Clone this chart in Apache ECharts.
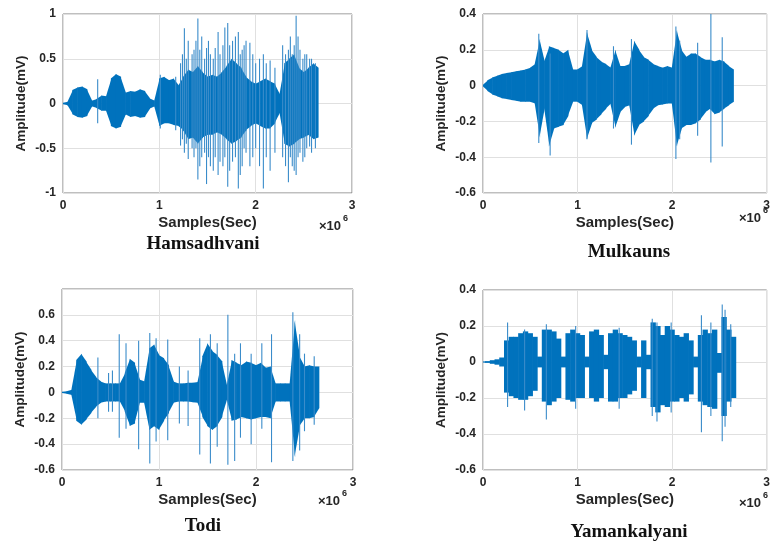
<!DOCTYPE html>
<html>
<head>
<meta charset="utf-8">
<title>Raga waveforms</title>
<script src="https://cdn.jsdelivr.net/npm/echarts@6/dist/echarts.min.js"></script>
<style>
  html, body { margin: 0; padding: 0; background: #fff; }
  #chart { width: 773px; height: 541px; }
</style>
</head>
<body>
<div id="chart"></div>
<script>
var samplePos = [0, 0.05, 0.1, 0.15, 0.2, 0.25, 0.3, 0.35, 0.4, 0.45,
    0.5, 0.55, 0.6, 0.65, 0.7, 0.75, 0.8, 0.85, 0.9, 0.95,
    1, 1.05, 1.1, 1.15, 1.2, 1.25, 1.3, 1.35, 1.4, 1.45,
    1.5, 1.55, 1.6, 1.65, 1.7, 1.75, 1.8, 1.85, 1.9, 1.95,
    2, 2.05, 2.1, 2.15, 2.2, 2.25, 2.3, 2.35, 2.4, 2.45,
    2.5, 2.55, 2.6, 2.65];
var xTicks = [0, 1, 2, 3];

// Hamsadhvani
var hamsUpper = [0, 0.02, 0.15, 0.18, 0.19, 0.16, 0.03, 0.05, 0.09, 0.08,
    0.28, 0.33, 0.30, 0.12, 0.14, 0.13, 0.16, 0.14, 0.06, 0.03,
    0.28, 0.30, 0.26, 0.28, 0.20, 0.30, 0.38, 0.35, 0.42, 0.35,
    0.30, 0.32, 0.30, 0.35, 0.42, 0.50, 0.45, 0.40, 0.30, 0.25,
    0.22, 0.25, 0.28, 0.25, 0.22, 0.10, 0.45, 0.50, 0.55, 0.40,
    0.35, 0.40, 0.45, 0.40];
var hamsLower = [0, -0.02, -0.12, -0.15, -0.16, -0.14, -0.03, -0.05, -0.08, -0.08,
    -0.25, -0.28, -0.26, -0.12, -0.15, -0.14, -0.16, -0.15, -0.06, -0.03,
    -0.25, -0.22, -0.22, -0.24, -0.25, -0.30, -0.40, -0.38, -0.45, -0.38,
    -0.35, -0.35, -0.32, -0.35, -0.40, -0.45, -0.42, -0.38, -0.30, -0.25,
    -0.22, -0.25, -0.28, -0.28, -0.22, -0.10, -0.45, -0.48, -0.45, -0.40,
    -0.38, -0.35, -0.40, -0.38];
// [position, top, bottom]
var hamsSpikes = [[0.36, 0.27, -0.22], [1.01, 0.32, -0.28], [1.17, 0.30, -0.30], [1.22, 0.45, -0.47],
    [1.24, 0.55, -0.40], [1.26, 0.84, -0.55], [1.28, 0.50, -0.45], [1.30, 0.70, -0.62],
    [1.34, 0.55, -0.50], [1.36, 0.60, -0.60], [1.38, 0.70, -0.50], [1.40, 0.95, -0.85],
    [1.42, 0.60, -0.70], [1.44, 0.75, -0.60], [1.47, 0.50, -0.55], [1.49, 0.62, -0.90],
    [1.51, 0.70, -0.60], [1.53, 0.55, -0.70], [1.56, 0.50, -0.75], [1.58, 0.62, -0.60],
    [1.61, 0.80, -0.80], [1.63, 0.55, -0.65], [1.66, 0.65, -0.70], [1.68, 0.85, -0.60],
    [1.71, 0.90, -0.93], [1.73, 0.65, -0.75], [1.76, 0.70, -0.65], [1.79, 0.75, -0.60],
    [1.82, 0.80, -0.95], [1.84, 0.55, -0.80], [1.86, 0.60, -0.70], [1.88, 0.65, -0.50],
    [1.90, 0.70, -0.55], [1.94, 0.68, -0.70], [1.97, 0.55, -0.60], [2.00, 0.45, -0.50],
    [2.04, 0.50, -0.70], [2.08, 0.55, -0.95], [2.11, 0.45, -0.60], [2.15, 0.48, -0.75],
    [2.20, 0.40, -0.55], [2.28, 0.65, -0.60], [2.31, 0.55, -0.70], [2.34, 0.60, -0.88],
    [2.36, 0.75, -0.60], [2.38, 0.55, -0.70], [2.40, 0.65, -0.75], [2.42, 0.98, -0.80],
    [2.44, 0.75, -0.60], [2.46, 0.60, -0.55], [2.49, 0.50, -0.65], [2.51, 0.55, -0.60],
    [2.53, 0.55, -0.50], [2.56, 0.50, -0.48], [2.58, 0.50, -0.55], [2.62, 0.45, -0.50]];

// Mulkauns
var mulkUpper = [0, 0.03, 0.045, 0.055, 0.065, 0.07, 0.075, 0.08, 0.085, 0.09,
    0.10, 0.12, 0.26, 0.135, 0.22, 0.21, 0.20, 0.18, 0.20, 0.09,
    0.09, 0.11, 0.30, 0.20, 0.16, 0.135, 0.12, 0.10, 0.20, 0.11,
    0.11, 0.12, 0.25, 0.20, 0.16, 0.145, 0.12, 0.11, 0.10, 0.11,
    0.10, 0.31, 0.20, 0.16, 0.18, 0.18, 0.16, 0.145, 0.145, 0.135,
    0.145, 0.135, 0.11, 0.09];
var mulkLower = [0, -0.03, -0.05, -0.06, -0.07, -0.075, -0.08, -0.085, -0.09, -0.09,
    -0.09, -0.10, -0.29, -0.125, -0.34, -0.24, -0.23, -0.22, -0.17, -0.09,
    -0.09, -0.11, -0.30, -0.21, -0.19, -0.16, -0.13, -0.10, -0.235, -0.15,
    -0.12, -0.11, -0.28, -0.22, -0.20, -0.17, -0.13, -0.11, -0.105, -0.10,
    -0.10, -0.34, -0.24, -0.22, -0.22, -0.21, -0.19, -0.15, -0.13, -0.16,
    -0.15, -0.13, -0.11, -0.09];
var mulkSpikes = [[0.59, 0.29, -0.32], [0.71, 0.18, -0.39], [1.10, 0.31, -0.30], [1.38, 0.22, -0.24],
    [1.57, 0.26, -0.33], [2.04, 0.33, -0.41], [2.08, 0.25, -0.30], [2.27, 0.24, -0.28],
    [2.41, 0.40, -0.43], [2.53, 0.27, -0.34]];

// Todi
var todiUpper = [0, 0.01, 0.02, 0.25, 0.30, 0.24, 0.175, 0.12, 0.085, 0.07,
    0.07, 0.07, 0.07, 0.15, 0.26, 0.23, 0.10, 0.085, 0.34, 0.37,
    0.29, 0.265, 0.21, 0.085, 0.07, 0.07, 0.075, 0.075, 0.08, 0.28,
    0.38, 0.32, 0.29, 0.24, 0.05, 0.25, 0.23, 0.21, 0.24, 0.23,
    0.21, 0.23, 0.19, 0.20, 0.07, 0.07, 0.07, 0.07, 0.56, 0.28,
    0.20, 0.21, 0.20, 0.20];
var todiLower = [0, -0.01, -0.02, -0.22, -0.25, -0.21, -0.16, -0.11, -0.08, -0.07,
    -0.07, -0.07, -0.07, -0.15, -0.26, -0.24, -0.08, -0.08, -0.29, -0.26,
    -0.29, -0.22, -0.16, -0.08, -0.07, -0.07, -0.07, -0.075, -0.08, -0.19,
    -0.26, -0.29, -0.26, -0.19, -0.05, -0.22, -0.21, -0.19, -0.20, -0.21,
    -0.20, -0.19, -0.19, -0.20, -0.07, -0.07, -0.07, -0.07, -0.50, -0.26,
    -0.20, -0.20, -0.19, -0.12];
var todiSpikes = [[0.37, 0.27, -0.20], [0.48, 0.15, -0.15], [0.52, 0.17, -0.15], [0.59, 0.45, -0.35],
    [0.66, 0.38, -0.28], [0.79, 0.40, -0.44], [0.905, 0.46, -0.55], [0.97, 0.42, -0.38],
    [1.09, 0.41, -0.37], [1.21, 0.20, -0.24], [1.30, 0.17, -0.26], [1.42, 0.42, -0.48],
    [1.53, 0.45, -0.55], [1.60, 0.38, -0.42], [1.71, 0.60, -0.56], [1.78, 0.30, -0.53],
    [1.84, 0.38, -0.35], [1.95, 0.30, -0.40], [2.06, 0.38, -0.28], [2.16, 0.45, -0.54],
    [2.38, 0.62, -0.53], [2.45, 0.45, -0.45], [2.50, 0.30, -0.30], [2.60, 0.28, -0.25]];

// Yamankalyani
var yamanUpper = [0, 0.005, 0.01, 0.015, 0.025, 0.12, 0.14, 0.14, 0.16, 0.17,
    0.16, 0.14, 0.03, 0.18, 0.18, 0.17, 0.13, 0.03, 0.16, 0.18,
    0.16, 0.15, 0.03, 0.17, 0.18, 0.15, 0.04, 0.16, 0.18, 0.16,
    0.15, 0.14, 0.12, 0.03, 0.12, 0.04, 0.22, 0.20, 0.15, 0.20,
    0.18, 0.15, 0.14, 0.16, 0.12, 0.03, 0.15, 0.18, 0.16, 0.18,
    0.05, 0.25, 0.18, 0.14];
var yamanLower = [0, -0.005, -0.01, -0.015, -0.025, -0.17, -0.19, -0.20, -0.21, -0.21,
    -0.19, -0.16, -0.03, -0.22, -0.24, -0.22, -0.20, -0.03, -0.21, -0.22,
    -0.20, -0.20, -0.03, -0.20, -0.22, -0.20, -0.04, -0.22, -0.22, -0.20,
    -0.20, -0.18, -0.16, -0.03, -0.20, -0.04, -0.25, -0.28, -0.24, -0.25,
    -0.22, -0.22, -0.20, -0.22, -0.18, -0.03, -0.22, -0.24, -0.25, -0.26,
    -0.06, -0.30, -0.22, -0.20];
var yamanSpikes = [[0.26, 0.22, -0.25], [0.44, 0.18, -0.27], [0.67, 0.21, -0.32], [0.98, 0.20, -0.26],
    [1.44, 0.19, -0.26], [1.79, 0.24, -0.30], [1.84, 0.22, -0.33], [1.99, 0.22, -0.28],
    [2.31, 0.26, -0.39], [2.41, 0.22, -0.30], [2.53, 0.32, -0.44], [2.56, 0.29, -0.36],
    [2.62, 0.21, -0.25]];

(function() {
    var chart = echarts.init(document.getElementById('chart'));
    var WAVE = '#0072BD';
    var SPIKE = '#3a8cca';
    var HALF = 0.025; // half width of one envelope bin (step mode)
    var FONT = 'Liberation Sans, Arial, sans-serif';

    // one entry per subplot: data + where it sits on the page
    var panels = [
        {name: 'Hamsadhvani', up: hamsUpper, lo: hamsLower, spikes: hamsSpikes, step: false,
         yMin: -1, yMax: 1, yStep: 0.5, hideMax: false,
         box: {left: 63, top: 14, width: 289, height: 179}, titleXY: [203, 244], expXY: [319, 226]},
        {name: 'Mulkauns', up: mulkUpper, lo: mulkLower, spikes: mulkSpikes, step: false,
         yMin: -0.6, yMax: 0.4, yStep: 0.2, hideMax: false,
         box: {left: 483, top: 14, width: 291, height: 179}, titleXY: [629, 252], expXY: [739, 218]},
        {name: 'Todi', up: todiUpper, lo: todiLower, spikes: todiSpikes, step: false,
         yMin: -0.6, yMax: 0.8, yStep: 0.2, hideMax: true,
         box: {left: 62, top: 289, width: 291, height: 181}, titleXY: [203, 526], expXY: [318, 501]},
        {name: 'Yamankalyani', up: yamanUpper, lo: yamanLower, spikes: yamanSpikes, step: true,
         yMin: -0.6, yMax: 0.4, yStep: 0.2, hideMax: false,
         box: {left: 483, top: 290, width: 291, height: 180}, titleXY: [629, 532], expXY: [739, 503]}
    ];

    // keep a band at least 1px thick so the flat parts still show a line
    function band(top, bot) {
        if (bot - top < 1) {
            var m = (top + bot) / 2;
            return [m - 0.6, m + 0.6];
        }
        return [top, bot];
    }

    // block between two neighbouring envelope readings: [x0, lo0, hi0, x1, lo1, hi1]
    function trapItem(params, api) {
        var x0 = api.value(0), x1 = api.value(3);
        var a0 = api.coord([x0, api.value(2)]), b0 = api.coord([x0, api.value(1)]);
        var a1 = api.coord([x1, api.value(5)]), b1 = api.coord([x1, api.value(4)]);
        var s0 = band(a0[1], b0[1]), s1 = band(a1[1], b1[1]);
        var l = a0[0] - 0.3, r = a1[0] + 0.3;
        return {
            type: 'polygon',
            shape: {points: [[l, s0[0]], [r, s1[0]], [r, s1[1]], [l, s0[1]]]},
            style: {fill: WAVE}
        };
    }

    // flat block around one reading: [x, lo, hi]
    function stepItem(params, api) {
        var x = api.value(0);
        var a = api.coord([x - HALF, api.value(2)]);
        var b = api.coord([x + HALF, api.value(1)]);
        var s = band(a[1], b[1]);
        return {
            type: 'rect',
            shape: {x: a[0] - 0.3, y: s[0], width: b[0] - a[0] + 0.6, height: s[1] - s[0]},
            style: {fill: WAVE}
        };
    }

    function spikeItem(params, api) {
        var t = api.coord([api.value(0), api.value(2)]);
        var b = api.coord([api.value(0), api.value(1)]);
        return {
            type: 'line',
            shape: {x1: t[0], y1: t[1], x2: b[0], y2: b[1]},
            style: {stroke: SPIKE, lineWidth: 1.1}
        };
    }

    var grids = [], xAxes = [], yAxes = [], series = [], graphics = [];
    var tickLabel = {color: '#262626', fontFamily: FONT, fontWeight: 'bold', fontSize: 12};

    panels.forEach(function(p, i) {
        grids.push({
            left: p.box.left, top: p.box.top, width: p.box.width, height: p.box.height,
            show: true, borderColor: '#7f7f7f', borderWidth: 1, backgroundColor: '#fff'
        });
        xAxes.push({
            gridIndex: i, type: 'value', position: 'bottom',
            min: xTicks[0], max: xTicks[xTicks.length - 1], interval: xTicks[1] - xTicks[0],
            name: 'Samples(Sec)', nameLocation: 'middle', nameGap: 22,
            nameTextStyle: {color: '#262626', fontFamily: FONT, fontWeight: 'bold', fontSize: 15},
            axisLine: {show: false, onZero: false},
            axisTick: {show: false},
            axisLabel: Object.assign({margin: 7}, tickLabel),
            splitLine: {lineStyle: {color: '#e0e0e0'}}
        });
        yAxes.push({
            gridIndex: i, type: 'value', position: 'left',
            min: p.yMin, max: p.yMax, interval: p.yStep,
            name: 'Amplitude(mV)', nameLocation: 'middle', nameGap: 35,
            nameTextStyle: {color: '#262626', fontFamily: FONT, fontWeight: 'bold', fontSize: 13.5},
            axisLine: {show: false, onZero: false},
            axisTick: {show: false},
            axisLabel: Object.assign({margin: 7, showMaxLabel: !p.hideMax}, tickLabel),
            splitLine: {lineStyle: {color: '#e0e0e0'}}
        });

        var body;
        if (p.step) {
            body = samplePos.map(function(x, k) { return [x, p.lo[k], p.up[k]]; });
        } else {
            body = [];
            for (var k = 0; k < samplePos.length - 1; k++) {
                body.push([samplePos[k], p.lo[k], p.up[k], samplePos[k + 1], p.lo[k + 1], p.up[k + 1]]);
            }
        }
        var spikes = p.spikes.map(function(s) { return [s[0], s[2], s[1]]; });
        series.push({
            type: 'custom', xAxisIndex: i, yAxisIndex: i, clip: true, silent: true,
            renderItem: p.step ? stepItem : trapItem, encode: {x: 0, y: [1, 2]}, data: body
        });
        series.push({
            type: 'custom', xAxisIndex: i, yAxisIndex: i, clip: true, silent: true,
            renderItem: spikeItem, encode: {x: 0, y: [1, 2]}, data: spikes
        });

        // subplot caption
        graphics.push({
            type: 'text', x: p.titleXY[0], y: p.titleXY[1],
            style: {text: p.name, fill: '#111', font: 'bold 19px "Liberation Serif", "Times New Roman", serif',
                    textAlign: 'center', textVerticalAlign: 'middle'}
        });
        // x10^6 exponent
        graphics.push({
            type: 'text', x: p.expXY[0], y: p.expXY[1],
            style: {text: '\u00d710', fill: '#262626', font: 'bold 13px ' + FONT,
                    textAlign: 'left', textVerticalAlign: 'middle'}
        });
        graphics.push({
            type: 'text', x: p.expXY[0] + 24, y: p.expXY[1] - 7,
            style: {text: '6', fill: '#262626', font: 'bold 9px ' + FONT,
                    textAlign: 'left', textVerticalAlign: 'middle'}
        });
    });

    chart.setOption({
        animation: false,
        backgroundColor: '#fff',
        grid: grids,
        xAxis: xAxes,
        yAxis: yAxes,
        series: series,
        graphic: graphics
    });

    window.addEventListener('resize', function() {
        chart.resize();
    });
})();
</script>
</body>
</html>
